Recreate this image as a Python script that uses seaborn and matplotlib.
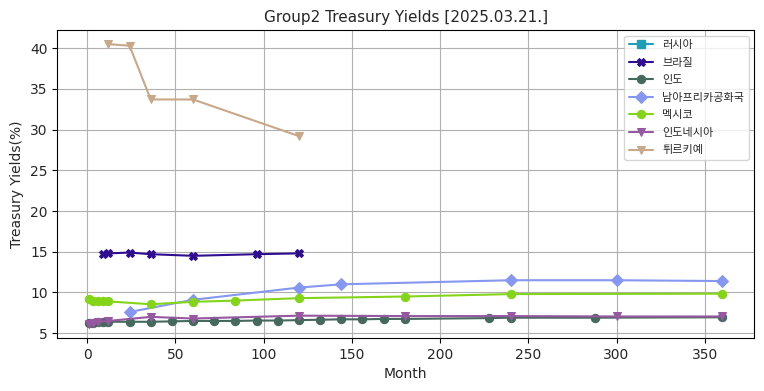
import matplotlib
matplotlib.use("Agg")
import matplotlib.pyplot as plt
import seaborn as sns
import pandas as pd

# Data
russia_m = []
russia_y = []

brazil_m = [9, 12, 24, 36, 60, 96, 120]
brazil_y = [14.7, 14.8, 14.9, 14.7, 14.5, 14.7, 14.8]

india_m = [1, 3, 6, 9, 12, 24, 36, 48, 60, 72, 84, 96, 108, 120, 132, 144, 156, 168, 180, 228, 240, 288, 360]
india_y = [6.2, 6.3, 6.4, 6.4, 6.4, 6.4, 6.4, 6.45, 6.5, 6.5, 6.5, 6.55, 6.55, 6.6, 6.65, 6.7, 6.7, 6.75, 6.75,
           6.85, 6.9, 6.9, 6.95]

sa_m = [24, 60, 120, 144, 240, 300, 360]
sa_y = [7.6, 9.1, 10.6, 11.0, 11.5, 11.5, 11.4]

mexico_m = [1, 3, 6, 9, 12, 36, 60, 84, 120, 180, 240, 360]
mexico_y = [9.15, 9.0, 8.9, 8.9, 8.9, 8.55, 8.85, 9.0, 9.3, 9.5, 9.8, 9.85]

indonesia_m = [1, 3, 6, 12, 36, 60, 120, 180, 240, 300, 360]
indonesia_y = [6.1, 6.3, 6.4, 6.5, 7.0, 6.8, 7.15, 7.1, 7.1, 7.05, 7.05]

turkey_m = [12, 24, 36, 60, 120]
turkey_y = [40.5, 40.3, 33.7, 33.7, 29.2]

names = ["러시아", "브라질", "인도", "남아프리카공화국", "멕시코", "인도네시아", "튀르키예"]
colors = ["#1f9fb5", "#2e0d8e", "#46695d", "#8597f0", "#84d41a", "#9658a0", "#c8a888"]
markers = ["s", "X", "o", "D", "o", "v", "v"]

sns.set_style("ticks")
plt.rcParams["font.family"] = ["Noto Sans CJK KR", "DejaVu Sans"]

fig = plt.figure(figsize=(7.64, 3.91), dpi=100)
ax = fig.add_axes([0.075, 0.135, 0.912, 0.788])

series = [(russia_m, russia_y), (brazil_m, brazil_y), (india_m, india_y), (sa_m, sa_y),
          (mexico_m, mexico_y), (indonesia_m, indonesia_y), (turkey_m, turkey_y)]

for (m, y), name, c, mk in zip(series, names, colors, markers):
    if len(m) == 0:
        ax.plot([], [], color=c, marker=mk, label=name, linewidth=1.5, markersize=6)
        continue
    df = pd.DataFrame({"Month": m, "Yield": y})
    sns.lineplot(data=df, x="Month", y="Yield", ax=ax, color=c, marker=mk,
                 markersize=6, markeredgecolor=c, linewidth=1.5, label=name)

ax.set_xticks([0, 50, 100, 150, 200, 250, 300, 350])
ax.set_yticks([5, 10, 15, 20, 25, 30, 35, 40])
ax.grid(True, color="#b0b0b0", linewidth=0.8)
for s in ax.spines.values():
    s.set_color("black")
    s.set_linewidth(0.8)
ax.tick_params(axis="both", labelsize=10, direction="out", length=3.5, width=0.8, color="black")
ax.set_xlabel("Month", fontsize=10, family=["DejaVu Sans"])
ax.set_ylabel("Treasury Yields(%)", fontsize=10, family=["DejaVu Sans"])
ax.set_title("Group2 Treasury Yields [2025.03.21.]", fontsize=11, family=["DejaVu Sans"])
for t in ax.get_xticklabels() + ax.get_yticklabels():
    t.set_family(["DejaVu Sans"])
ax.legend(loc="upper right", fontsize=8, labelspacing=0.68, handlelength=2.2, frameon=True)

fig.savefig("out.png", dpi=100)
